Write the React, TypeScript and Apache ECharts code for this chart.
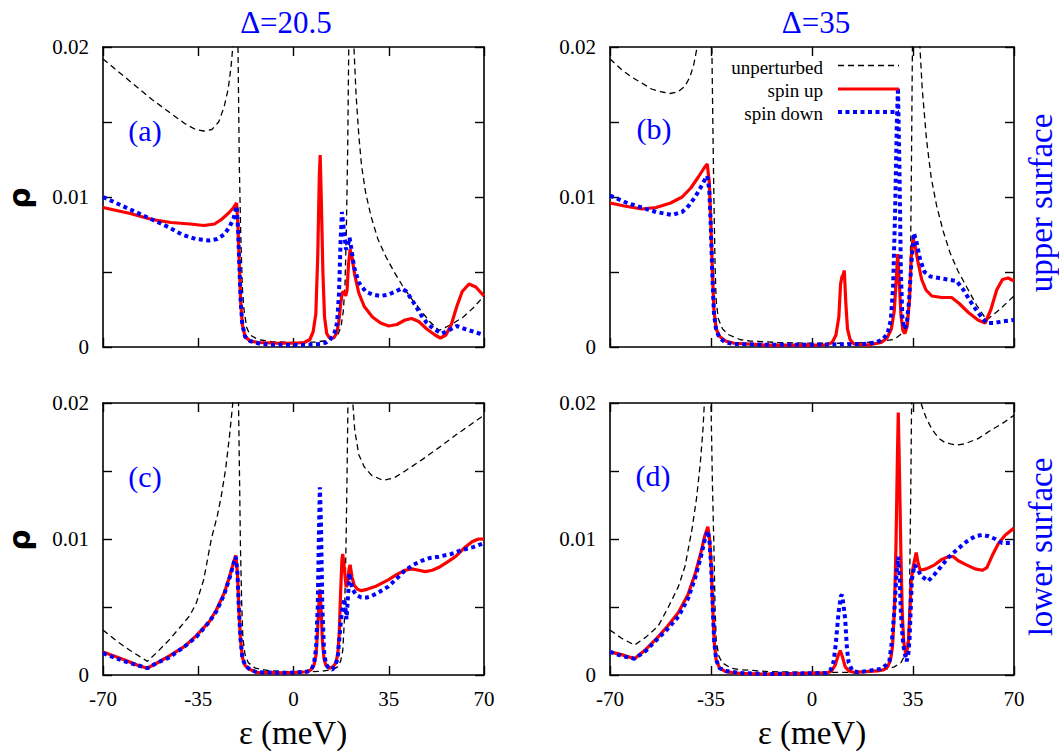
import React, { useEffect, useRef } from "react";
import * as echarts from "echarts";

type Pt = [number, number];

// x axis (meV) and y axis (rho) ticks
const X_MIN = -70;
const X_MAX = 70;
const X_STEP = 35;
const Y_MIN = 0;
const Y_MAX = 0.02;
const Y_STEP = 0.005;
const Y_LABELED = ["0", "0.01", "0.02"];

const SERIES_NAMES = ["unperturbed", "spin up", "spin down"];
const DELTA_TITLES = ["\u0394=20.5", "\u0394=35"];
const PANEL_TAGS = ["(a)", "(b)", "(c)", "(d)"];
const SURFACE_NAMES = ["upper surface", "lower surface"];

// (a) upper surface, Delta = 20.5
const aUnperturbed: Pt[] = [
  [-70, 0.0192], [-64, 0.0183], [-58, 0.0174], [-52, 0.0165], [-46, 0.0157], [-40, 0.0149],
  [-36, 0.0145], [-33, 0.0144], [-30, 0.0145], [-27.5, 0.015], [-25.5, 0.016], [-24, 0.0172],
  [-23, 0.0186], [-22.3, 0.02], [-21.4, 0.06], [-20.4, 0.02], [-19.9, 0.012], [-19.4, 0.0076],
  [-18.8, 0.004], [-18.2, 0.0025], [-17.2, 0.0013], [-16, 0.0008], [-13, 0.0005], [-8, 0.00035],
  [0, 0.0003], [8, 0.00033], [12, 0.00042], [15, 0.0006], [16.5, 0.0009], [17.5, 0.0014],
  [18.3, 0.0024], [18.9, 0.004], [19.4, 0.0076], [19.9, 0.013], [20.3, 0.02], [21.2, 0.06],
  [22.2, 0.02], [23, 0.0168], [24, 0.0141], [25, 0.0121], [26.5, 0.0103], [28.5, 0.0087],
  [31, 0.0072], [34, 0.006], [37, 0.005], [40, 0.0041], [43, 0.0033], [46.5, 0.0025],
  [50, 0.0017], [53.5, 0.0011], [58, 0.0015], [62.4, 0.002], [66, 0.0026], [70, 0.0034],
];
const aSpinUp: Pt[] = [
  [-70, 0.0093], [-60, 0.0089], [-52, 0.0085], [-45, 0.0083], [-38, 0.0082], [-33, 0.0081],
  [-29, 0.0082], [-26.5, 0.0085], [-24, 0.0089], [-22, 0.0093], [-20.9, 0.0096], [-20.4, 0.008],
  [-19.9, 0.0055], [-19.4, 0.003], [-18.8, 0.0015], [-17.8, 0.0007], [-16, 0.0004], [-13, 0.0003],
  [-6, 0.00025], [0, 0.00025], [4, 0.0003], [6, 0.0005], [7.2, 0.001], [8.2, 0.0022],
  [8.9, 0.006], [9.5, 0.0115], [9.8, 0.0128], [10.2, 0.01], [10.8, 0.005], [11.4, 0.002],
  [12.2, 0.0009], [13.2, 0.0006], [14.8, 0.0006], [15.8, 0.0009], [16.6, 0.0016], [17.3, 0.0028],
  [17.9, 0.0036], [18.5, 0.0037], [19.2, 0.0034], [19.7, 0.0038], [20.2, 0.0055], [20.8, 0.0065],
  [21.5, 0.006], [22.5, 0.0048], [24, 0.0036], [26, 0.0027], [29, 0.002], [32, 0.0016],
  [35, 0.0014], [38, 0.0015], [41, 0.0018], [43.4, 0.0019], [46, 0.0017], [49, 0.0012],
  [52, 0.0008], [54, 0.0006], [56, 0.0008], [58, 0.0015], [60, 0.0027], [62, 0.0037],
  [64.5, 0.0042], [67, 0.004], [70, 0.0034],
];
const aSpinDown: Pt[] = [
  [-70, 0.01], [-64, 0.0095], [-58, 0.009], [-52, 0.0085], [-46, 0.008], [-41, 0.0075],
  [-36, 0.0072], [-31, 0.0071], [-28, 0.0072], [-25.5, 0.0075], [-23.5, 0.008], [-22, 0.0086],
  [-20.9, 0.0094], [-20.4, 0.008], [-19.9, 0.0055], [-19.4, 0.003], [-18.8, 0.0015], [-17.8, 0.0007],
  [-16, 0.0004], [-12, 0.0002], [-6, 0.00015], [0, 0.00013], [6, 0.00015], [10, 0.0002],
  [12, 0.0003], [13.5, 0.0005], [15, 0.0009], [16, 0.0016], [16.7, 0.0035], [17.3, 0.007],
  [17.8, 0.009], [18.5, 0.0078], [19.3, 0.0065], [20, 0.0068], [20.6, 0.0073], [21.3, 0.0065],
  [22.3, 0.0053], [24, 0.0043], [26.5, 0.0037], [29, 0.0035], [32, 0.0034], [35, 0.0035],
  [37.5, 0.0037], [39.7, 0.0039], [41.5, 0.0037], [44, 0.003], [47, 0.0021], [49, 0.0016],
  [51.5, 0.0012], [54.5, 0.0009], [57, 0.0011], [60, 0.0014], [63, 0.0012], [66.5, 0.001],
  [70, 0.0008],
];

// (b) upper surface, Delta = 35
const bUnperturbed: Pt[] = [
  [-70, 0.0192], [-66, 0.0185], [-62.6, 0.018], [-59, 0.0176], [-55.6, 0.0172], [-52, 0.017],
  [-49.2, 0.0169], [-46.5, 0.017], [-44, 0.0174], [-42.3, 0.018], [-41, 0.0188], [-39.8, 0.02],
  [-37.2, 0.06], [-34.7, 0.02], [-34.3, 0.014], [-34, 0.01], [-33.6, 0.0055], [-33.2, 0.0031],
  [-32.5, 0.0019], [-31, 0.0012], [-28.7, 0.0008], [-25, 0.0005], [-21.7, 0.0004], [-12, 0.0003],
  [0, 0.00025], [12, 0.00025], [19, 0.0003], [24, 0.0004], [28.5, 0.0005], [30.5, 0.0008],
  [32, 0.0012], [33, 0.002], [33.8, 0.0035], [34.2, 0.007], [34.5, 0.013], [34.8, 0.02],
  [36.1, 0.06], [37.4, 0.02], [38.2, 0.0172], [39.7, 0.0138], [41.3, 0.0113], [43.2, 0.0094],
  [45.5, 0.0077], [47.8, 0.0063], [50.5, 0.0051], [53.6, 0.004], [57, 0.0028], [60.5, 0.0018],
  [65, 0.0025], [70, 0.0034],
];
const bSpinUp: Pt[] = [
  [-70, 0.0096], [-65, 0.0094], [-59, 0.0092], [-54, 0.0093], [-49, 0.0096], [-45, 0.01],
  [-42, 0.0106], [-39.5, 0.0113], [-37.5, 0.0119], [-36.3, 0.0122], [-35.6, 0.011], [-35.1, 0.0085],
  [-34.6, 0.0055], [-34, 0.0025], [-33.2, 0.0012], [-32, 0.0007], [-30, 0.0004], [-27, 0.00025],
  [-16, 0.00013], [0, 0.00013], [5, 0.00015], [7, 0.0003], [8.3, 0.0008], [9.3, 0.002],
  [9.9, 0.0042], [10.4, 0.0047], [10.8, 0.0048], [11.2, 0.0051], [11.7, 0.003], [12.3, 0.0012],
  [13.2, 0.0005], [14.5, 0.0002], [19, 0.00013], [24, 0.0003], [26, 0.0006], [27.5, 0.0012],
  [28.5, 0.0024], [29.2, 0.0045], [29.7, 0.0062], [30.2, 0.0045], [30.8, 0.0022], [31.5, 0.0011],
  [32.2, 0.0009], [33, 0.0014], [33.8, 0.0032], [34.4, 0.006], [35, 0.0072], [35.7, 0.0068],
  [36.7, 0.0057], [38, 0.0045], [39.5, 0.0038], [41.5, 0.0034], [45, 0.0033], [48.4, 0.0033],
  [51, 0.0029], [54.2, 0.0023], [57.5, 0.0018], [60, 0.0016], [62, 0.0025], [64, 0.0038],
  [66, 0.0045], [68, 0.0046], [70, 0.0044],
];
const bSpinDown: Pt[] = [
  [-70, 0.0101], [-64, 0.0096], [-59, 0.0093], [-54, 0.009], [-48.6, 0.0088], [-45, 0.009],
  [-42.8, 0.0094], [-40.5, 0.01], [-38.7, 0.0106], [-37, 0.0112], [-36.3, 0.0114], [-35.6, 0.0105],
  [-35.1, 0.0082], [-34.6, 0.0052], [-34, 0.0023], [-33.2, 0.0011], [-32, 0.0006], [-30, 0.0003],
  [-27, 0.0002], [-16, 0.00015], [0, 0.00015], [10, 0.00018], [18, 0.0002], [22, 0.0003],
  [24.5, 0.0005], [26.2, 0.0009], [27.3, 0.0018], [28.1, 0.004], [28.8, 0.009], [29.4, 0.015],
  [29.8, 0.0173], [30.3, 0.012], [30.8, 0.005], [31.3, 0.002], [32, 0.0012], [32.8, 0.0015],
  [33.6, 0.003], [34.4, 0.0055], [35.3, 0.0076], [36.2, 0.007], [37.5, 0.0058], [39, 0.005],
  [41, 0.0047], [44, 0.0046], [47, 0.0045], [50.1, 0.0044], [52.5, 0.0038], [54.7, 0.0031],
  [57.5, 0.0023], [60.5, 0.0016], [63, 0.0016], [66, 0.0017], [70, 0.0018],
];

// (c) lower surface, Delta = 20.5
const cUnperturbed: Pt[] = [
  [-70, 0.0033], [-65, 0.0025], [-60, 0.0018], [-56, 0.0013], [-53.7, 0.001], [-50, 0.0017],
  [-45.6, 0.0026], [-41.3, 0.0036], [-38, 0.0044], [-35.7, 0.0053], [-33, 0.007], [-30.2, 0.01],
  [-28, 0.0117], [-26.5, 0.0132], [-24.9, 0.0152], [-23.5, 0.0176], [-22.3, 0.02], [-21.3, 0.06],
  [-20.2, 0.02], [-19.8, 0.014], [-19.5, 0.0095], [-19, 0.005], [-18.6, 0.0027], [-17.8, 0.0015],
  [-16.6, 0.0009], [-14, 0.0005], [-8.5, 0.0003], [3.8, 0.0002], [11.3, 0.0003], [14.5, 0.0004],
  [16.2, 0.0006], [17.3, 0.001], [18.1, 0.0018], [18.7, 0.004], [19.3, 0.0095], [19.7, 0.015],
  [20, 0.02], [20.9, 0.06], [21.8, 0.02], [22.5, 0.018], [24, 0.0162], [26, 0.0153],
  [28.6, 0.0147], [32.9, 0.0143], [37, 0.0145], [41, 0.015], [47, 0.0158], [53.3, 0.0167],
  [60, 0.0177], [65, 0.0184], [70, 0.0191],
];
const cSpinUp: Pt[] = [
  [-70, 0.0017], [-62, 0.0011], [-57, 0.0007], [-53.7, 0.0005], [-50, 0.0009], [-45.6, 0.0014],
  [-40, 0.0021], [-35.7, 0.0029], [-31, 0.0039], [-28.3, 0.0048], [-25.5, 0.006], [-23.4, 0.0073],
  [-22, 0.0083], [-21.2, 0.0088], [-20.6, 0.0075], [-20.1, 0.005], [-19.5, 0.0027], [-18.8, 0.0013],
  [-17.8, 0.0007], [-16, 0.0004], [-13.5, 0.0002], [-2.4, 0.00015], [5, 0.00024], [6.5, 0.0004],
  [7.5, 0.0007], [8.3, 0.0015], [8.9, 0.0035], [9.4, 0.0055], [9.7, 0.0063], [10.1, 0.005],
  [10.6, 0.0026], [11.2, 0.0012], [11.9, 0.0007], [13.2, 0.0005], [14.5, 0.0006], [15.6, 0.0009],
  [16.3, 0.0016], [16.8, 0.003], [17.3, 0.006], [17.8, 0.0085], [18.1, 0.0089], [18.7, 0.0078],
  [19.3, 0.0065], [19.8, 0.0066], [20.4, 0.0078], [20.8, 0.0081], [21.5, 0.0072], [22.3, 0.0066],
  [23.5, 0.0063], [24.9, 0.0062], [27, 0.0063], [30, 0.0065], [34.8, 0.007], [38, 0.0074],
  [41, 0.0077], [43.4, 0.0078], [46, 0.0077], [48.4, 0.0076], [51, 0.0077], [53.3, 0.0079],
  [56.5, 0.0083], [59.5, 0.0087], [62.5, 0.0093], [65.6, 0.0098], [68, 0.01], [70, 0.01],
];
const cSpinDown: Pt[] = [
  [-70, 0.0016], [-62, 0.001], [-57, 0.0007], [-53.7, 0.0005], [-50, 0.0009], [-45.6, 0.0013],
  [-40, 0.0021], [-35.7, 0.0028], [-31, 0.0039], [-28.3, 0.0047], [-25.5, 0.0059], [-23.4, 0.0072],
  [-22, 0.0082], [-21.2, 0.0087], [-20.6, 0.0075], [-20.1, 0.005], [-19.5, 0.0027], [-18.8, 0.0013],
  [-17.8, 0.0007], [-16, 0.0004], [-13.5, 0.0002], [-2.4, 0.00015], [5, 0.00024], [6.5, 0.0004],
  [7.5, 0.0008], [8.3, 0.002], [8.9, 0.005], [9.4, 0.011], [9.7, 0.0138], [10.1, 0.011],
  [10.6, 0.005], [11.2, 0.0018], [11.9, 0.0008], [13, 0.0005], [14.3, 0.0004], [15.3, 0.0007],
  [16.2, 0.0012], [17, 0.003], [17.7, 0.0046], [18.7, 0.0056], [19.5, 0.0041], [20.1, 0.006],
  [20.5, 0.0075], [21.1, 0.0068], [21.7, 0.0063], [23, 0.0059], [24.9, 0.0057], [27, 0.0057],
  [28.6, 0.0058], [31.5, 0.0061], [34.8, 0.0065], [38, 0.0071], [41, 0.0077], [44, 0.0081],
  [47.1, 0.0084], [50, 0.0086], [53.3, 0.0087], [58, 0.0089], [62, 0.0092], [66, 0.0094],
  [70, 0.0097],
];

// (d) lower surface, Delta = 35
const dUnperturbed: Pt[] = [
  [-70, 0.0033], [-66, 0.0027], [-61.5, 0.0022], [-57.5, 0.0028], [-53.3, 0.0036], [-50, 0.0049],
  [-46.3, 0.0065], [-44, 0.008], [-41.6, 0.0107], [-40, 0.013], [-38.7, 0.0156], [-37.8, 0.018],
  [-37.3, 0.02], [-36.2, 0.06], [-35, 0.02], [-34.5, 0.014], [-34, 0.0095], [-33.6, 0.005],
  [-33.2, 0.0026], [-32.3, 0.0014], [-31.1, 0.0009], [-28, 0.0005], [-25.3, 0.0004], [-15, 0.00025],
  [-4.2, 0.0002], [13.3, 0.0002], [20, 0.0003], [25, 0.0004], [28.5, 0.0006], [30.8, 0.0009],
  [32.3, 0.0015], [33.2, 0.0026], [33.7, 0.005], [34, 0.0095], [34.3, 0.015], [34.5, 0.02],
  [36.2, 0.06], [37.8, 0.02], [38.5, 0.0195], [39.6, 0.0189], [41, 0.0183], [42.5, 0.0178],
  [44, 0.0174], [46, 0.0171], [48, 0.017], [50.1, 0.0169], [53, 0.017], [57.7, 0.0174],
  [62, 0.018], [66, 0.0185], [70, 0.0191],
];
const dSpinUp: Pt[] = [
  [-70, 0.0017], [-66, 0.0015], [-61.5, 0.0012], [-57.5, 0.0019], [-53.3, 0.0028], [-50, 0.0036],
  [-46.3, 0.0046], [-43, 0.0059], [-40.4, 0.0075], [-38.5, 0.009], [-37.2, 0.0102], [-36.1, 0.0109],
  [-35.5, 0.01], [-34.9, 0.008], [-34.4, 0.005], [-33.9, 0.0025], [-33.2, 0.0011], [-32, 0.0005],
  [-29.9, 0.00024], [-25, 0.00012], [-16, 0.00007], [5.1, 0.00015], [6.8, 0.0003], [8, 0.0007],
  [9, 0.0014], [9.8, 0.0018], [10.6, 0.0013], [11.5, 0.0006], [12.8, 0.0003], [14.5, 0.0002],
  [22.7, 0.0003], [25, 0.0004], [26.2, 0.0006], [27.2, 0.0011], [27.9, 0.0021], [28.6, 0.005],
  [29.1, 0.0095], [29.6, 0.016], [29.9, 0.0193], [30.3, 0.015], [30.8, 0.009], [31.3, 0.0045],
  [31.8, 0.0024], [32.6, 0.0014], [33.4, 0.0024], [34, 0.005], [34.4, 0.007], [35.2, 0.0081],
  [36.1, 0.009], [36.8, 0.0082], [37.5, 0.0077], [39.6, 0.0078], [42.5, 0.0081], [45, 0.0085],
  [47.2, 0.0087], [49, 0.0087], [50.7, 0.0084], [53.5, 0.0081], [56.5, 0.0078], [59, 0.0077],
  [60.6, 0.0079], [62.5, 0.0088], [64.7, 0.0097], [67, 0.0103], [70, 0.0108],
];
const dSpinDown: Pt[] = [
  [-70, 0.0017], [-66, 0.0014], [-61.5, 0.0012], [-57.5, 0.0018], [-53.3, 0.0027], [-50, 0.0034],
  [-46.3, 0.0043], [-43, 0.0056], [-40.4, 0.0072], [-38.5, 0.0087], [-37.2, 0.0099], [-36.1, 0.0106],
  [-35.5, 0.0098], [-34.9, 0.0078], [-34.4, 0.005], [-33.9, 0.0025], [-33.2, 0.0011], [-32, 0.0005],
  [-29.9, 0.0003], [-25, 0.00015], [-16, 0.00007], [5.1, 0.00015], [6.5, 0.0004], [7.5, 0.001],
  [8.2, 0.0022], [9.2, 0.0046], [10, 0.0058], [10.4, 0.0059], [10.9, 0.0052], [11.5, 0.0041],
  [12.1, 0.002], [12.7, 0.0009], [14, 0.0003], [16, 0.0002], [23.8, 0.00044], [25.5, 0.0007],
  [26.8, 0.001], [27.7, 0.0025], [28.5, 0.0046], [29.3, 0.0075], [29.9, 0.0087], [30.4, 0.007],
  [30.8, 0.0046], [31.4, 0.0027], [32, 0.0017], [32.8, 0.001], [33.4, 0.0016], [33.8, 0.0026],
  [34.6, 0.007], [35.5, 0.0081], [36.5, 0.0078], [37.8, 0.0073], [40.2, 0.0069], [42.5, 0.0074],
  [44.8, 0.008], [47.5, 0.0087], [50.7, 0.0093], [53.5, 0.0098], [56.5, 0.0102], [59, 0.0103],
  [61.2, 0.0102], [63.5, 0.01], [65.9, 0.0097], [70, 0.0097],
];

const PANELS: Pt[][][] = [
  [aUnperturbed, aSpinUp, aSpinDown],
  [bUnperturbed, bSpinUp, bSpinDown],
  [cUnperturbed, cSpinUp, cSpinDown],
  [dUnperturbed, dSpinUp, dSpinDown],
];

const SERIF = "Liberation Serif";
const BLUE = "#0000ff";
const RED = "#ff0000";

const GRIDS = [
  { left: 103, top: 47, width: 381, height: 300 },
  { left: 610, top: 47, width: 404, height: 300 },
  { left: 103, top: 403, width: 381, height: 272 },
  { left: 610, top: 403, width: 404, height: 272 },
];

const LINE_STYLES = [
  { color: "#000000", width: 1.3, type: [6, 4] as number[] },
  { color: RED, width: 3.2, type: "solid" as const },
  { color: BLUE, width: 4, type: [4, 3.5] as number[], cap: "butt" as const },
];

function yLabel(v: number): string {
  const s = String(+v.toFixed(3));
  return Y_LABELED.includes(s) ? s : "";
}

function textStyle(text: string, size: number, fill: string, family: string, weight = "normal", align = "center") {
  return {
    text,
    fill,
    fontSize: size,
    fontFamily: family,
    fontWeight: weight,
    align,
    verticalAlign: "middle",
  };
}

function buildOption() {
  const xAxes: any[] = [];
  const yAxes: any[] = [];
  const series: any[] = [];
  const axisLine = { show: true, onZero: false, lineStyle: { color: "#000", width: 1.6 } };
  const axisTick = { show: true, inside: true, length: 9, lineStyle: { color: "#000", width: 1.4 } };

  GRIDS.forEach((_, g) => {
    const bottomRow = g >= 2;
    // bottom x axis (labelled on the lower row)
    xAxes.push({
      type: "value", gridIndex: g, position: "bottom", min: X_MIN, max: X_MAX, interval: X_STEP,
      axisLine, axisTick, splitLine: { show: false },
      axisLabel: {
        show: bottomRow, margin: 13, color: "#000", fontFamily: SERIF, fontSize: 21,
      },
    });
    // mirrored top x axis, ticks only
    xAxes.push({
      type: "value", gridIndex: g, position: "top", min: X_MIN, max: X_MAX, interval: X_STEP,
      axisLine, axisTick, splitLine: { show: false }, axisLabel: { show: false },
    });
    yAxes.push({
      type: "value", gridIndex: g, position: "left", min: Y_MIN, max: Y_MAX, interval: Y_STEP,
      axisLine, axisTick, splitLine: { show: false },
      axisLabel: {
        show: true, margin: 14, color: "#000", fontFamily: SERIF, fontSize: 21,
        formatter: yLabel,
      },
    });
    yAxes.push({
      type: "value", gridIndex: g, position: "right", min: Y_MIN, max: Y_MAX, interval: Y_STEP,
      axisLine, axisTick, splitLine: { show: false }, axisLabel: { show: false },
    });

    PANELS[g].forEach((data, k) => {
      series.push({
        type: "line",
        name: SERIES_NAMES[k],
        xAxisIndex: g * 2,
        yAxisIndex: g * 2,
        data,
        showSymbol: false,
        symbol: "none",
        clip: true,
        z: 2 + k,
        lineStyle: LINE_STYLES[k],
      });
    });
  });

  const graphic: any[] = [];
  // column titles
  [[286, 22], [816, 22]].forEach(([x, y], i) => {
    graphic.push({ type: "text", x, y, style: textStyle(DELTA_TITLES[i], 31, BLUE, SERIF) });
  });
  // panel tags
  [[145, 130], [654, 128], [145, 476], [653, 475]].forEach(([x, y], i) => {
    graphic.push({ type: "text", x, y, style: textStyle(PANEL_TAGS[i], 30, BLUE, SERIF) });
  });
  // row labels on the right
  [[1041, 203], [1041, 547]].forEach(([x, y], i) => {
    graphic.push({
      type: "text", x, y, rotation: Math.PI / 2,
      style: textStyle(SURFACE_NAMES[i], 33, BLUE, SERIF),
    });
  });
  // y axis names
  [[19, 198], [19, 540]].forEach(([x, y]) => {
    graphic.push({
      type: "text", x, y, rotation: Math.PI / 2,
      style: textStyle("\u03c1", 30, "#000", "DejaVu Sans", "bold"),
    });
  });
  // x axis names
  [[293, 733], [812, 733]].forEach(([x, y]) => {
    graphic.push({ type: "text", x, y, style: textStyle("\u03b5 (meV)", 33, "#000", SERIF) });
  });
  // key inside panel (b)
  const keyRows = [67, 90.5, 113.5];
  keyRows.forEach((y, k) => {
    graphic.push({
      type: "text", x: 823, y,
      style: textStyle(SERIES_NAMES[k], 19, "#000", SERIF, "normal", "right"),
    });
    const ls = LINE_STYLES[k];
    graphic.push({
      type: "line",
      shape: { x1: 838, y1: y - 1.5, x2: 899, y2: y - 1.5 },
      z: 10,
      style: {
        stroke: ls.color, lineWidth: ls.width,
        lineDash: Array.isArray(ls.type) ? ls.type : null,
        lineCap: "butt",
      },
    });
  });

  return {
    animation: false,
    backgroundColor: "#ffffff",
    grid: GRIDS.map((g) => ({ ...g, containLabel: false })),
    xAxis: xAxes,
    yAxis: yAxes,
    series,
    graphic,
  };
}

export default function App() {
  const ref = useRef<HTMLDivElement>(null);
  useEffect(() => {
    if (!ref.current) return;
    const chart = echarts.init(ref.current, undefined, { renderer: "svg" });
    chart.setOption(buildOption());
    return () => chart.dispose();
  }, []);
  return (
    <div
      ref={ref}
      style={{ position: "absolute", left: 0, top: 0, width: 1059, height: 753, background: "#fff" }}
    />
  );
}
